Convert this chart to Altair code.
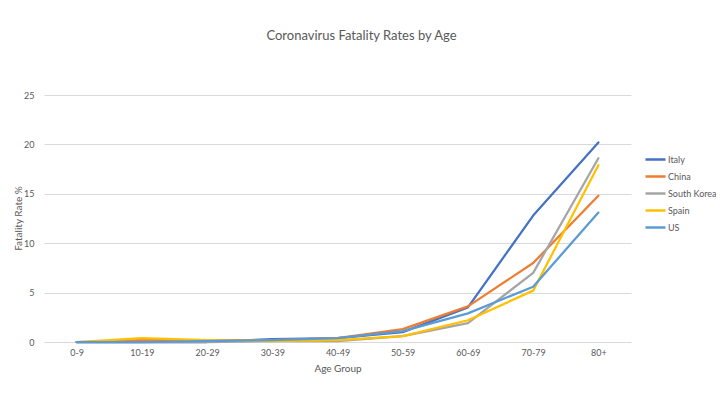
import altair as alt
import pandas as pd

age_groups = ["0-9", "10-19", "20-29", "30-39", "40-49", "50-59", "60-69", "70-79", "80+"]
countries = ["Italy", "China", "South Korea", "Spain", "US"]
colors = ["#4472C4", "#ED7D31", "#A5A5A5", "#FFC000", "#5B9BD5"]

italy = [0.0, 0.0, 0.0, 0.3, 0.4, 1.0, 3.5, 12.8, 20.2]
china = [0.0, 0.2, 0.2, 0.2, 0.4, 1.3, 3.6, 8.0, 14.8]
south_korea = [0.0, 0.0, 0.0, 0.1, 0.1, 0.6, 1.9, 7.0, 18.6]
spain = [0.0, 0.4, 0.2, 0.1, 0.2, 0.6, 2.2, 5.2, 17.9]
us = [0.0, 0.0, 0.1, 0.2, 0.4, 1.1, 2.9, 5.6, 13.1]

series = {"Italy": italy, "China": china, "South Korea": south_korea, "Spain": spain, "US": us}
rows = []
for ci, c in enumerate(countries):
    for ai, a in enumerate(age_groups):
        rows.append({"Country": c, "Age": a, "Rate": series[c][ai], "order": ci})
df = pd.DataFrame(rows)

font = "Lato"
gray = "#595959"

chart = alt.Chart(df).mark_line(strokeWidth=2.25, strokeCap="round", strokeJoin="round").encode(
    x=alt.X("Age:N", sort=age_groups, scale=alt.Scale(type="point", padding=0.5),
            axis=alt.Axis(title="Age Group", labelAngle=0, domain=False, ticks=False, grid=False,
                          labelPadding=6, titlePadding=6, labelFontSize=9, titleFontSize=10,
                          labelColor=gray, titleColor=gray, labelFont=font, titleFont=font,
                          titleFontWeight="normal")),
    y=alt.Y("Rate:Q", scale=alt.Scale(domain=[0, 25]),
            axis=alt.Axis(title="Fatality Rate %", values=[0, 5, 10, 15, 20, 25], domain=False,
                          ticks=False, grid=True, gridColor="#D9D9D9", gridWidth=1,
                          labelPadding=10, titleX=-21, titleY=123, labelFontSize=9, titleFontSize=10,
                          labelColor=gray, titleColor=gray, labelFont=font, titleFont=font,
                          titleFontWeight="normal")),
    color=alt.Color("Country:N", sort=countries,
                    scale=alt.Scale(domain=countries, range=colors),
                    legend=alt.Legend(title=None, orient="none", legendX=600, legendY=53,
                                      symbolType="stroke", symbolSize=400, symbolStrokeWidth=2.5,
                                      labelFontSize=9, labelColor=gray, labelFont=font,
                                      rowPadding=0, labelOffset=1, padding=0)),
    order=alt.Order("order:Q"),
    detail="Country:N",
).properties(
    width=587,
    height=247,
    background="white",
    autosize=alt.AutoSizeParams(type="none"),
    padding={"left": 36, "top": 87, "right": 85, "bottom": 44},
    title=alt.TitleParams("Coronavirus Fatality Rates by Age", anchor="middle", dx=24,
                          offset=48, fontSize=13, font=font, fontWeight="normal", color=gray),
).configure_view(stroke=None)

chart.save("out.html", embed_options={"renderer": "svg", "actions": False})
